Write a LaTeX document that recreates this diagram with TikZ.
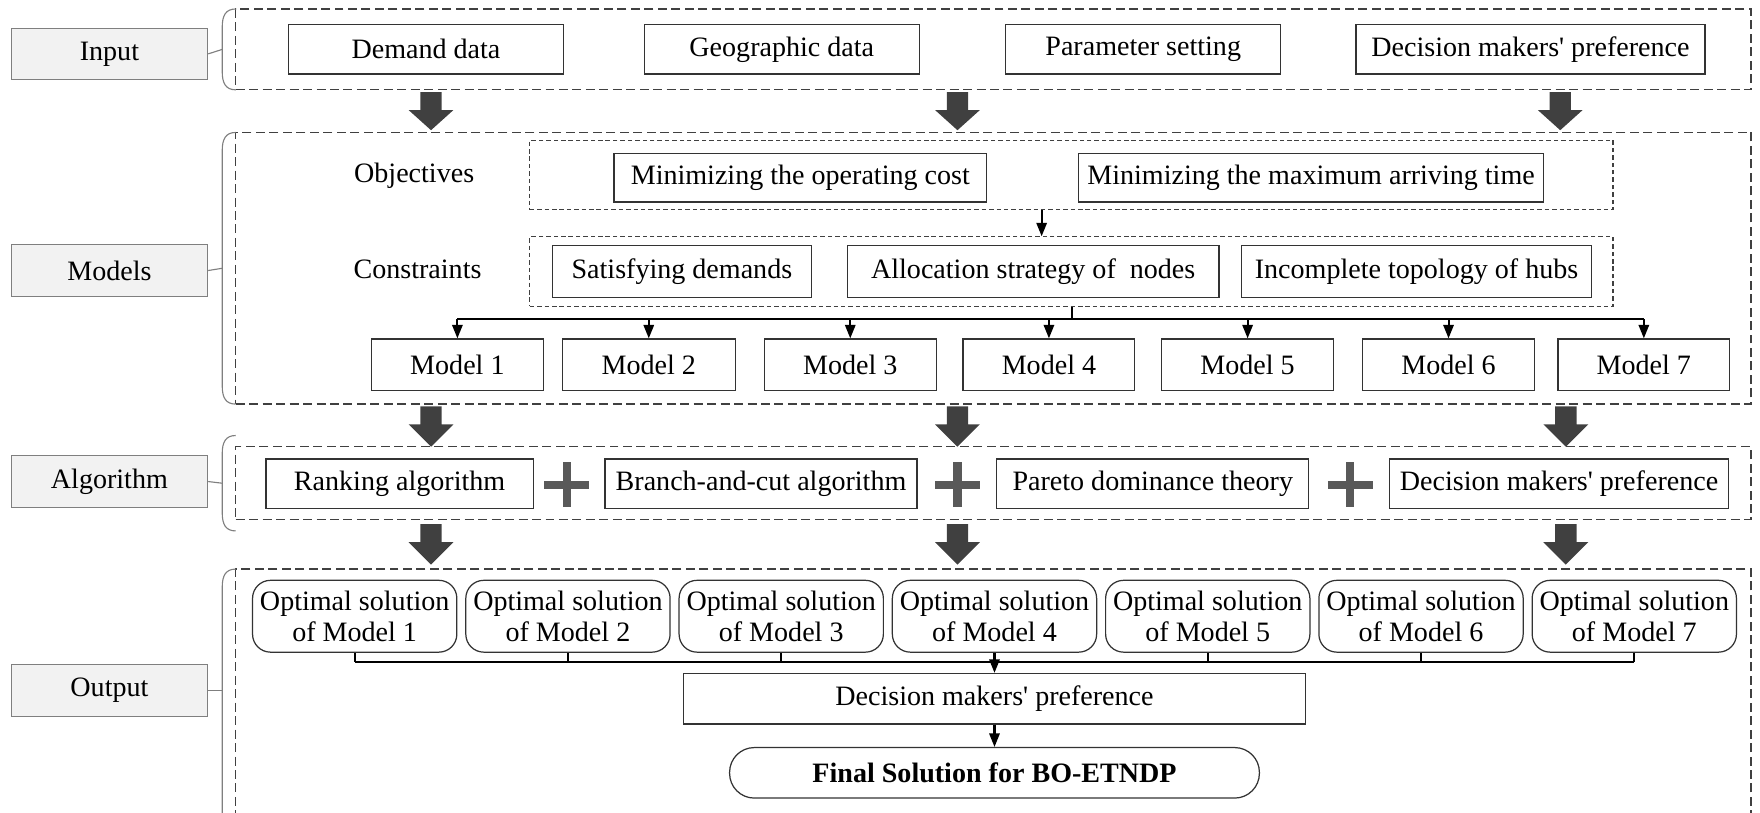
\documentclass[tikz,border=0pt]{standalone}
\usepackage{fontspec}
\setmainfont{Liberation Serif}[Ligatures=TeXOff]
\usetikzlibrary{arrows.meta,calc}
\definecolor{lblfill}{HTML}{F2F2F2}
\definecolor{lbldraw}{HTML}{7F7F7F}
\definecolor{bigarr}{HTML}{404040}
\definecolor{plusc}{HTML}{595959}
\definecolor{dashc}{HTML}{404040}
\newcommand\mkbox[7]{\node[#1, minimum width={(#4-#2)*0.5pt}, minimum height={(#5-#3)*0.5pt}] (#6) at ({(#2+#4)/2},{(#3+#5)/2}) {#7};}
\newcommand\bigarrow[3]{\fill[bigarr] (#1-9.5,#2) -- (#1+9.5,#2) -- (#1+9.5,#2+16) -- (#1+20,#2+16) -- (#1,#3) -- (#1-20,#2+16) -- (#1-9.5,#2+16) -- cycle;}
\newcommand\plussign[2]{\draw[plusc, line width=3.7pt] (#1-20,#2) -- (#1+20,#2) (#1,#2-20) -- (#1,#2+20);}
\newcommand\sectbrace[3]{\draw[lbldraw, line width=0.5pt] (210,#1) .. controls (201,#1) and (198,#1+6) .. (198,#1+16) -- (198,#2-16) .. controls (198,#2-6) and (201,#2) .. (210,#2);
  \draw[lbldraw, line width=0.5pt] (#3.east) -- (198,{(#1+#2)/2});}
\begin{document}
\begin{tikzpicture}[x=0.5pt,y=-0.5pt,
  txt/.style={font=\fontsize{12.5}{14}\selectfont},
  lbl/.style={txt, draw=lbldraw, fill=lblfill, line width=0.5pt, inner sep=0pt},
  bx/.style={txt, draw=black!80, line width=0.55pt, inner sep=0pt, fill=white},
  rbx/.style={bx, rounded corners=8pt, align=center},
  fbx/.style={bx, rounded corners=11pt, font=\fontsize{12.5}{14}\selectfont\bfseries},
  dbox/.style={draw=dashc, line width=0.55pt, dash pattern=on 4pt off 2pt, inner sep=0pt},
  sbox/.style={draw=dashc, line width=0.5pt, dash pattern=on 2pt off 1.3pt, inner sep=0pt},
  conn/.style={black, line width=0.9pt},
  arr/.style={conn, -{Triangle[length=6pt,width=4.6pt]}},
]
\useasboundingbox (0,0) rectangle (1568,724);
\clip (0,0) rectangle (1568,724);

% section frames
\mkbox{dbox}{210}{8}{1560}{80}{inframe}{}
\mkbox{dbox}{210}{118}{1560}{360}{modframe}{}
\mkbox{dbox}{210}{398}{1560}{463}{algframe}{}
\mkbox{dbox}{210}{507}{1560}{760}{outframe}{}

% labels
\mkbox{lbl}{10}{25}{185}{71}{linput}{Input}
\mkbox{lbl}{10}{218}{185}{264}{lmodels}{Models}
\mkbox{lbl}{10}{406}{185}{452}{lalg}{Algorithm}
\mkbox{lbl}{10}{592}{185}{638}{lout}{Output}

\sectbrace{8}{80}{linput}
\sectbrace{118}{360}{lmodels}
\sectbrace{388}{473}{lalg}
\draw[lbldraw, line width=0.5pt] (210,507) .. controls (201,507) and (198,513) .. (198,523) -- (198,760);
\draw[lbldraw, line width=0.5pt] (lout.east) -- (198,615);

% input
\mkbox{bx}{257}{22}{502}{66}{demand}{Demand data}
\mkbox{bx}{574}{22}{819}{66}{geo}{Geographic data}
\mkbox{bx}{896}{22}{1141}{66}{param}{Parameter setting}
\mkbox{bx}{1208}{22}{1519}{66}{dmp1}{Decision makers' preference}

\bigarrow{384}{82}{116}
\bigarrow{853}{82}{116}
\bigarrow{1390}{82}{116}

% models
\node[txt] (objl) at (369,157) {Objectives};
\node[txt] (conl) at (372,240) {Constraints};
\mkbox{sbox}{472}{125}{1437}{187}{objframe}{}
\mkbox{sbox}{472}{211}{1437}{273}{conframe}{}
\mkbox{bx}{547}{137}{879}{180}{obj1}{Minimizing the operating cost}
\mkbox{bx}{961}{137}{1375}{180}{obj2}{Minimizing the maximum arriving time}
\mkbox{bx}{492}{219}{723}{265}{con1}{Satisfying demands}
\mkbox{bx}{755}{219}{1086}{265}{con2}{Allocation strategy of\ \ nodes}
\mkbox{bx}{1106}{219}{1418}{265}{con3}{Incomplete topology of hubs}
\coordinate (oc) at (928,0);
\draw[arr] (objframe.south -| oc) -- (conframe.north -| oc);

\mkbox{bx}{331}{302}{484}{348}{m1}{Model 1}
\mkbox{bx}{501}{302}{655}{348}{m2}{Model 2}
\mkbox{bx}{681}{302}{834}{348}{m3}{Model 3}
\mkbox{bx}{858}{302}{1011}{348}{m4}{Model 4}
\mkbox{bx}{1035}{302}{1188}{348}{m5}{Model 5}
\mkbox{bx}{1214}{302}{1367}{348}{m6}{Model 6}
\mkbox{bx}{1388}{302}{1541}{348}{m7}{Model 7}
\coordinate (mbus) at (955,284);
\draw[conn] (conframe.south -| mbus) -- (mbus);
\draw[conn] (m1.north |- mbus) -- (m7.north |- mbus);
\foreach \m in {m1,m2,m3,m4,m5,m6,m7}{\draw[arr] (\m.north |- mbus) -- (\m.north);}

\bigarrow{384}{362}{398}
\bigarrow{853}{362}{398}
\bigarrow{1395}{362}{398}

% algorithm
\mkbox{bx}{237}{409}{475}{453}{a1}{Ranking algorithm}
\mkbox{bx}{539}{409}{817}{453}{a2}{Branch-and-cut algorithm}
\mkbox{bx}{888}{409}{1166}{453}{a3}{Pareto dominance theory}
\mkbox{bx}{1238}{409}{1540}{453}{a4}{Decision makers' preference}
\plussign{505}{432}
\plussign{853}{432}
\plussign{1203}{432}

\bigarrow{384}{467}{503}
\bigarrow{853}{467}{503}
\bigarrow{1395}{467}{503}

% output
\mkbox{rbx}{225}{517}{407}{581}{s1}{Optimal solution\\of Model 1}
\mkbox{rbx}{415}{517}{597}{581}{s2}{Optimal solution\\of Model 2}
\mkbox{rbx}{605}{517}{787}{581}{s3}{Optimal solution\\of Model 3}
\mkbox{rbx}{795}{517}{977}{581}{s4}{Optimal solution\\of Model 4}
\mkbox{rbx}{985}{517}{1167}{581}{s5}{Optimal solution\\of Model 5}
\mkbox{rbx}{1175}{517}{1357}{581}{s6}{Optimal solution\\of Model 6}
\mkbox{rbx}{1365}{517}{1547}{581}{s7}{Optimal solution\\of Model 7}
\coordinate (sbus) at (886,590);
\foreach \s in {s1,s2,s3,s4,s5,s6,s7}{\draw[conn] (\s.south) -- (\s.south |- sbus);}
\draw[conn] (s1.south |- sbus) -- (s7.south |- sbus);
\mkbox{bx}{609}{600}{1163}{645}{dmp2}{Decision makers' preference}
\draw[arr] (sbus) -- (dmp2.north -| sbus);
\mkbox{fbx}{650}{666}{1122}{711}{final}{Final Solution for BO-ETNDP}
\draw[arr] (dmp2.south -| sbus) -- (final.north -| sbus);
\end{tikzpicture}
\end{document}
